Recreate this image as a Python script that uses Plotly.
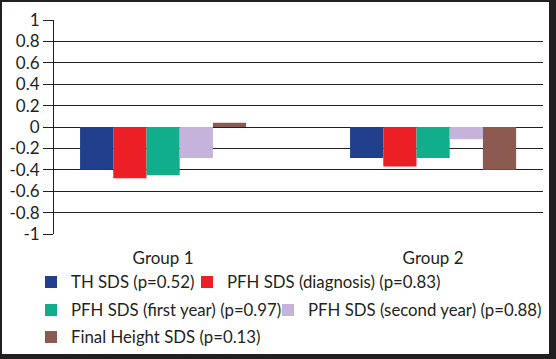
import plotly.graph_objects as go

categories = ["Group 1", "Group 2"]
series_names = [
    "TH SDS (p=0.52)",
    "PFH SDS (diagnosis) (p=0.83)",
    "PFH SDS (first year) (p=0.97)",
    "PFH SDS (second year) (p=0.88)",
    "Final Height SDS (p=0.13)",
]
th_sds = [-0.40, -0.29]
pfh_diag = [-0.48, -0.37]
pfh_first = [-0.45, -0.29]
pfh_second = [-0.29, -0.115]
final_height = [0.04, -0.40]
series_values = [th_sds, pfh_diag, pfh_first, pfh_second, final_height]
colors = ["#213f8c", "#ec1f27", "#12ae8c", "#c4b4dc", "#8c5a50"]
y_ticks = [1, 0.8, 0.6, 0.4, 0.2, 0, -0.2, -0.4, -0.6, -0.8, -1]
y_tick_text = ["1", "0.8", "0.6", "0.4", "0.2", "0", "-0.2", "-0.4", "-0.6", "-0.8", "-1"]

W, H = 556, 359
L, R, T, B = 54, 13, 20, 125
PW = W - L - R
PH = H - T - B

def px_x(px):
    return (px - L) / PW

def px_y(py):
    return 1 - (py - T) / PH

FONT = "Lato"
DARK = "#231f20"

# legend positions (text start x in px, row center y in px)
legend_pos = [(71, 282), (227, 282), (71, 310), (308, 310), (71, 337)]
legend_ids = ["legend", "legend2", "legend3", "legend4", "legend5"]

fig = go.Figure()
for name, vals, col, lid in zip(series_names, series_values, colors, legend_ids):
    fig.add_trace(go.Bar(x=categories, y=vals, name=name, marker_color=col,
                         marker_line_width=0, legend=lid))

layout_legends = {}
for (tx, ty), lid in zip(legend_pos, legend_ids):
    layout_legends[lid] = dict(
        x=px_x(tx - 40), y=px_y(ty), xanchor="left", yanchor="middle",
        orientation="h", bgcolor="rgba(0,0,0,0)", borderwidth=0,
        font=dict(family=FONT, size=16.8, color=DARK),
        itemclick=False, itemdoubleclick=False,
    )

fig.update_layout(
    width=W, height=H,
    margin=dict(l=L, r=R, t=T, b=B, pad=0, autoexpand=False),
    paper_bgcolor="white", plot_bgcolor="white",
    barmode="group", bargap=0.385, bargroupgap=0,
    showlegend=True,
    font=dict(family=FONT, size=17, color=DARK),
    xaxis=dict(
        range=[-0.404, 1.407], showgrid=False, zeroline=False, showline=False,
        ticks="", tickfont=dict(family=FONT, size=17, color=DARK),
        ticklabelstandoff=12,
    ),
    yaxis=dict(
        range=[-1, 1], tickvals=y_ticks, ticktext=y_tick_text,
        showgrid=True, gridcolor=DARK, gridwidth=1,
        zeroline=True, zerolinecolor=DARK, zerolinewidth=1,
        showline=True, linecolor=DARK, linewidth=1,
        ticks="outside", ticklen=10, tickcolor=DARK, tickwidth=1,
        tickfont=dict(family=FONT, size=17, color=DARK),
    ),
    **layout_legends,
)

# outer frame of the figure
frame = [
    (0, 0, 2, H),
    (0, 0, W, 2),
    (549, 0, W, H),
    (0, 354, W, H),
]
for x0, y0, x1, y1 in frame:
    fig.add_shape(type="rect", xref="paper", yref="paper",
                  x0=px_x(x0), x1=px_x(x1), y0=px_y(y0), y1=px_y(y1),
                  fillcolor=DARK, line_width=0, layer="above")

fig.write_html("out.html", config={"displayModeBar": False},
               post_script="document.body.style.margin='0';")
